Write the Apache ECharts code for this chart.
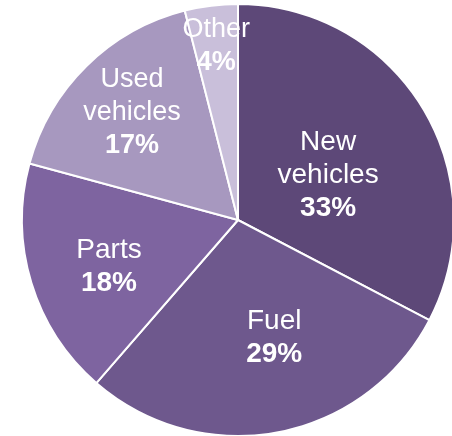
<!DOCTYPE html>
<html>
<head>
<meta charset="utf-8">
<script src="https://cdn.jsdelivr.net/npm/echarts@6/dist/echarts.min.js"></script>
<style>html,body{margin:0;padding:0;background:#fff}#c{width:452px;height:436px}</style>
</head>
<body>
<div id="c"></div>
<script>
var categories = ['New vehicles', 'Fuel', 'Parts', 'Used vehicles', 'Other'];
var values = [33, 29, 18, 17, 4];
var colors = ['#5D4878', '#6E588D', '#7E64A0', '#A798BF', '#C9BFDA'];
var labelRadii = [100, 122, 135, 148, 172];
var labelPad = [[18, 0, 0, 4], [0, 0, 10, 26], [14, 0, 0, 6], [0, 0, 0, 0], [0, 0, 0, 0]];
var labelFont = [28, 28, 28, 27, 27];

var center = [238, 220];
var R = 216;

var chart = echarts.init(document.getElementById('c'), null, {renderer: 'canvas'});

function fmt(p) {
  var lines = p.name.split(' ').map(function (w) { return '{n|' + w + '}'; });
  lines.push('{p|' + p.value + '%}');
  return lines.join('\n');
}
function richFor(fs) {
  return {
    n: {fontFamily: 'Liberation Sans, Arial, sans-serif', fontSize: fs, color: '#fff', lineHeight: 33},
    p: {fontFamily: 'Liberation Sans, Arial, sans-serif', fontSize: fs, fontWeight: 'bold', color: '#fff', lineHeight: 33}
  };
}

var series = [{
  type: 'pie',
  center: center,
  radius: [0, R],
  startAngle: 90,
  clockwise: true,
  animation: false,
  silent: true,
  itemStyle: {borderColor: '#fff', borderWidth: 2},
  label: {show: false},
  labelLine: {show: false},
  data: categories.map(function (c, i) {
    return {name: c, value: values[i], itemStyle: {color: colors[i]}};
  })
}];

labelRadii.forEach(function (mr, idx) {
  series.push({
    type: 'pie',
    center: center,
    radius: [mr - 20, mr + 20],
    startAngle: 90,
    clockwise: true,
    animation: false,
    silent: true,
    z: 5,
    itemStyle: {color: 'rgba(0,0,0,0)', borderWidth: 0},
    labelLine: {show: false},
    label: {show: true, position: 'inside', formatter: fmt, rich: richFor(labelFont[idx]), padding: labelPad[idx]},
    data: categories.map(function (c, i) {
      return {name: c, value: values[i], label: {show: i === idx}};
    })
  });
});

chart.setOption({backgroundColor: '#fff', animation: false, series: series});
</script>
</body>
</html>
